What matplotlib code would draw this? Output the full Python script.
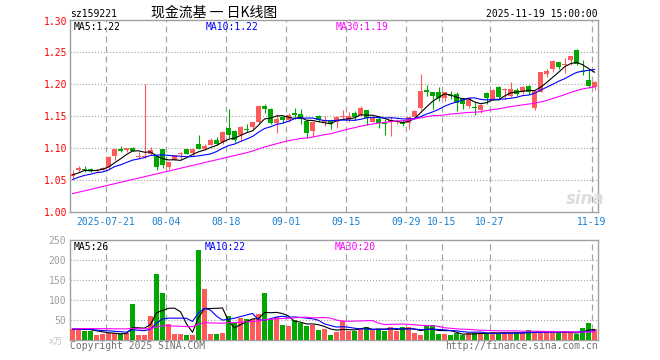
import numpy as np
import matplotlib
matplotlib.use("Agg")
import matplotlib.pyplot as plt
from matplotlib.transforms import blended_transform_factory, ScaledTranslation

plt.rcParams['lines.scale_dashes'] = False

# ---------------- data ----------------
opens = [1.056, 1.065, 1.067, 1.067, 1.064, 1.066, 1.070, 1.088, 1.099, 1.097,
         1.100, 1.086, 1.086, 1.091, 1.087, 1.099, 1.071, 1.082, 1.090, 1.099,
         1.092, 1.107, 1.099, 1.105, 1.113, 1.109, 1.131, 1.126, 1.120, 1.130,
         1.133, 1.140, 1.165, 1.161, 1.139, 1.148, 1.144, 1.154, 1.153, 1.142,
         1.127, 1.150, 1.141, 1.142, 1.141, 1.148, 1.144, 1.155, 1.151, 1.159,
         1.141, 1.146, 1.139, 1.141, 1.141, 1.141, 1.139, 1.148, 1.162, 1.190,
         1.187, 1.187, 1.178, 1.183, 1.185, 1.177, 1.165, 1.163, 1.160, 1.186,
         1.177, 1.196, 1.190, 1.182, 1.191, 1.187, 1.197, 1.163, 1.188, 1.216,
         1.223, 1.234, 1.229, 1.237, 1.253, 1.219, 1.206, 1.196]
highs = [1.066, 1.072, 1.072, 1.068, 1.067, 1.070, 1.087, 1.099, 1.103, 1.100,
         1.102, 1.093, 1.200, 1.101, 1.087, 1.099, 1.078, 1.089, 1.093, 1.099,
         1.099, 1.121, 1.106, 1.115, 1.117, 1.126, 1.161, 1.128, 1.134, 1.137,
         1.141, 1.166, 1.169, 1.162, 1.153, 1.150, 1.154, 1.162, 1.161, 1.143,
         1.142, 1.151, 1.150, 1.143, 1.150, 1.159, 1.157, 1.158, 1.165, 1.160,
         1.151, 1.150, 1.146, 1.148, 1.146, 1.144, 1.149, 1.159, 1.216, 1.199,
         1.188, 1.195, 1.188, 1.189, 1.187, 1.178, 1.179, 1.172, 1.168, 1.187,
         1.192, 1.197, 1.193, 1.203, 1.193, 1.197, 1.198, 1.190, 1.219, 1.224,
         1.237, 1.235, 1.240, 1.244, 1.254, 1.238, 1.223, 1.204]
lows = [1.053, 1.062, 1.062, 1.062, 1.063, 1.065, 1.067, 1.081, 1.093, 1.093,
        1.095, 1.085, 1.085, 1.089, 1.065, 1.068, 1.067, 1.082, 1.083, 1.091,
        1.088, 1.098, 1.097, 1.104, 1.104, 1.107, 1.115, 1.110, 1.111, 1.125,
        1.128, 1.139, 1.154, 1.137, 1.123, 1.139, 1.141, 1.146, 1.137, 1.115,
        1.117, 1.140, 1.135, 1.130, 1.132, 1.145, 1.141, 1.143, 1.150, 1.136,
        1.140, 1.132, 1.121, 1.118, 1.137, 1.134, 1.130, 1.147, 1.159, 1.181,
        1.161, 1.173, 1.173, 1.177, 1.158, 1.161, 1.163, 1.152, 1.155, 1.169,
        1.175, 1.175, 1.177, 1.180, 1.181, 1.185, 1.184, 1.160, 1.187, 1.211,
        1.219, 1.223, 1.217, 1.230, 1.230, 1.214, 1.193, 1.191]
closes = [1.060, 1.069, 1.066, 1.064, 1.066, 1.069, 1.086, 1.099, 1.095, 1.100,
          1.096, 1.088, 1.088, 1.097, 1.070, 1.074, 1.078, 1.089, 1.092, 1.091,
          1.099, 1.099, 1.103, 1.112, 1.107, 1.125, 1.121, 1.112, 1.133, 1.128,
          1.140, 1.165, 1.161, 1.139, 1.145, 1.143, 1.152, 1.152, 1.146, 1.124,
          1.141, 1.143, 1.143, 1.138, 1.149, 1.149, 1.150, 1.149, 1.162, 1.147,
          1.148, 1.139, 1.137, 1.143, 1.142, 1.138, 1.148, 1.158, 1.189, 1.188,
          1.181, 1.178, 1.187, 1.181, 1.170, 1.169, 1.178, 1.162, 1.167, 1.178,
          1.190, 1.179, 1.192, 1.192, 1.184, 1.196, 1.187, 1.189, 1.218, 1.221,
          1.236, 1.227, 1.232, 1.243, 1.231, 1.218, 1.197, 1.203]
volumes = [28, 28, 23, 23, 13, 15, 17, 17, 15, 17,
           90, 13, 13, 60, 165, 118, 40, 15, 15, 13,
           13, 225, 128, 15, 15, 18, 60, 43, 55, 53,
           52, 65, 118, 53, 57, 38, 35, 50, 43, 35,
           38, 25, 27, 13, 20, 47, 23, 23, 28, 32,
           27, 27, 23, 32, 23, 33, 32, 17, 13, 37,
           37, 15, 15, 13, 17, 13, 17, 17, 18, 17,
           20, 17, 18, 17, 18, 18, 25, 20, 22, 20,
           20, 17, 20, 17, 15, 30, 42, 27]
# closes / volumes of the 29 sessions before the first visible one (feed the moving averages)
prior_closes = [1.003, 1.000, 0.998, 0.998, 1.003, 1.020, 1.033, 1.029, 1.034, 1.030,
                1.022, 1.022, 1.031, 1.004, 1.008, 1.012, 1.023, 1.026, 1.025, 1.033,
                1.033, 1.037, 1.046, 1.041, 1.059, 1.055, 1.046, 1.067, 1.063]
prior_volumes = [22, 18, 25, 20, 16, 19, 24, 21, 17, 45,
                 38, 30, 52, 34, 28, 41, 36, 29, 33, 30,
                 26, 24, 30, 28, 27, 25, 28, 26, 28]

date_labels = ['2025-07-21', '08-04', '08-18', '09-01', '09-15', '09-29', '10-15', '10-27', '11-19']
date_index = [6, 16, 26, 36, 46, 56, 62, 70, 87]
price_ticks = [1.30, 1.25, 1.20, 1.15, 1.10, 1.05, 1.00]
vol_ticks = [250, 200, 150, 100, 50]

title_code = 'sz159221'
title_name = '现金流基 一 日K线图'
title_time = '2025-11-19 15:00:00'
price_ma_text = ['MA5:1.22', 'MA10:1.22', 'MA30:1.19']
vol_ma_text = ['MA5:26', 'MA10:22', 'MA30:20']

# ---------------- styling ----------------
RED = '#ff5a5a'
GREEN = '#00a800'
MA_COLORS = ['#000000', '#0000ff', '#ff00ff']
FRAME = '#a0a0a0'
GRID = '#a4a4a4'
MONO = ['DejaVu Sans Mono']
FS = 7.0

W, H = 660, 360
fig = plt.figure(figsize=(W / 100, H / 100), dpi=100)
fig.patch.set_facecolor('white')


def rect(l, t, r, b):
    return [l / W, 1 - b / H, (r - l) / W, (b - t) / H]


axp = fig.add_axes(rect(70, 20, 597.5, 212))
axv = fig.add_axes(rect(70, 240, 597.5, 340))

n = len(closes)
x = np.arange(n)
o = np.array(opens); c = np.array(closes)
hi = np.array(highs); lo = np.array(lows)
vol = np.array(volumes, dtype=float)
up = c >= o
cols = np.where(up, RED, GREEN)


def ma(values, prior, k):
    arr = np.concatenate([np.array(prior, dtype=float), np.array(values, dtype=float)])
    out = np.convolve(arr, np.ones(k) / k, mode='valid')
    return out[-len(values):]


xl = (-2.5 / 6, 87.5)
bw = 5 / 6

# price panel
axp.vlines(x, lo, hi, colors=cols, linewidth=0.8, zorder=3)
body_h = np.maximum(np.abs(c - o), 0.0016)
axp.bar(x, body_h, bottom=np.minimum(o, c), width=bw, color=cols, linewidth=0, zorder=4)
for k, col in zip([5, 10, 30], MA_COLORS):
    axp.plot(x, ma(closes, prior_closes, k), color=col, linewidth=0.8, zorder=5)
axp.set_xlim(*xl)
axp.set_ylim(1.00, 1.30)

# volume panel
axv.bar(x, vol, width=bw, color=cols, linewidth=0, zorder=3)
for k, col in zip([5, 10, 30], MA_COLORS):
    axv.plot(x, ma(volumes, prior_volumes, k), color=col, linewidth=0.8, zorder=5)
axv.set_xlim(*xl)
axv.set_ylim(0, 250)

for ax in (axp, axv):
    ax.set_xticks([]); ax.set_yticks([])
    for s in ax.spines.values():
        s.set_color(FRAME); s.set_linewidth(1.0)
    for d in date_index:
        ax.axvline(d - 2.5 / 6, color=GRID, linewidth=0.9, linestyle=(0, (4.3, 2.9)), zorder=1)

for p in price_ticks[1:-1]:
    axp.axhline(p, color=GRID, linewidth=0.8, linestyle=(0, (0.8, 1.4)), zorder=1)
for v in vol_ticks[1:]:
    axv.axhline(v, color=GRID, linewidth=0.8, linestyle=(0, (0.8, 1.4)), zorder=1)

# labels
def off(dx, dy):
    return ScaledTranslation(dx / 100, -dy / 100, fig.dpi_scale_trans)

trp = blended_transform_factory(axp.transAxes, axp.transData)
for p in price_ticks:
    dy = 3.6 if p < 1.29 else 5.0
    axp.text(0, p, f'{p:.2f}', transform=trp + off(-3, dy), ha='right', va='baseline',
             color='#ff0000', fontsize=FS, family=MONO)

trx = blended_transform_factory(axp.transData, axp.transAxes)
for d, lab in zip(date_index, date_labels):
    axp.text(d - 2.5 / 6, 0, lab, transform=trx + off(0, 13), ha='center', va='baseline',
             color='#1a80d0', fontsize=FS, family=MONO)

trv = blended_transform_factory(axv.transAxes, axv.transData)
for v in vol_ticks:
    axv.text(0, v, f'{v}', transform=trv + off(-4, 3.8), ha='right', va='baseline',
             color='#a0a0a0', fontsize=FS, family=MONO)


def ftext(px, py, s, **kw):
    fig.text(px / W, 1 - py / H, s, va='baseline', **kw)


ftext(70, 17, title_code, color='black', fontsize=FS, family=MONO)
ftext(151, 17, title_name, color='black', fontsize=10,
      family=['Noto Sans CJK SC', 'DejaVu Sans'])
ftext(598, 17, title_time, color='black', fontsize=FS, family=MONO, ha='right')

for px, s, col in zip([74, 206, 336], price_ma_text, MA_COLORS):
    ftext(px, 30, s, color=col, fontsize=FS, family=MONO)
for px, s, col in zip([74, 205, 335], vol_ma_text, MA_COLORS):
    ftext(px, 250, s, color=col, fontsize=FS, family=MONO)

ftext(49, 345, 'x万', color='#c0c0c0', fontsize=6.5, family=['DejaVu Sans Mono', 'Noto Sans CJK SC'])
ftext(70, 349, 'Copyright 2025 SINA.COM', color='#707070', fontsize=FS, family=MONO)
ftext(598, 349, 'http://finance.sina.com.cn', color='#707070', fontsize=FS, family=MONO, ha='right')

# faint sina watermark
ftext(566, 204, 'sina', color='#dddddd', fontsize=12, family=['DejaVu Sans'],
      style='italic', weight='bold')

fig.savefig('out.png', dpi=100, facecolor='white')
